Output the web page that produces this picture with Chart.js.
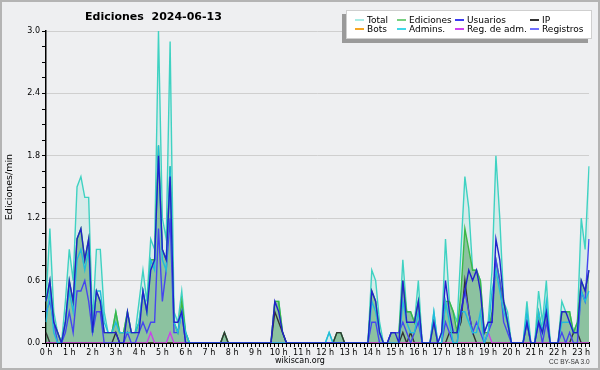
<!DOCTYPE html>
<html>
<head>
<meta charset="utf-8">
<script src="https://cdn.jsdelivr.net/npm/chart.js@4.4.1/dist/chart.umd.min.js"></script>
<style>
  html, body { margin: 0; padding: 0; background: #eeeff1; }
  #wrap { position: relative; width: 600px; height: 370px; overflow: hidden; font-family: "DejaVu Sans", sans-serif; color: #000; }
  #frame { position: absolute; left: 0; top: 0; width: 596px; height: 366px; border: 2px solid #b4b4b4; pointer-events: none; }
  #title { position: absolute; left: 85px; top: 10px; font-weight: bold; font-size: 11px; line-height: 13px; white-space: pre; }
  #legend { position: absolute; left: 346px; top: 10px; width: 244px; height: 27px; background: #fff; border: 1px solid #cfcfcf; box-shadow: -4px 4px 0 #9a9a9a; }
  .item { position: absolute; font-size: 9px; line-height: 10px; white-space: nowrap; }
  .sw { position: absolute; width: 9px; height: 1.5px; }
  #site { position: absolute; left: 0; width: 600px; top: 356px; text-align: center; font-size: 8px; line-height: 10px; }
  #cc { position: absolute; left: 549px; top: 358px; font-family: "Liberation Sans", sans-serif; font-size: 6.5px; line-height: 8px; color: #333; }
</style>
</head>
<body>
<div id="wrap">
  <canvas id="chart" width="600" height="370"></canvas>
  <div id="title">Ediciones  2024-06-13</div>
  <div id="legend"></div>
  <div id="site">wikiscan.org</div>
  <div id="cc">CC BY-SA 3.0</div>
  <div id="frame"></div>
</div>
<script>
// hour tick labels, one every 6 slots (10 min each)
const hourLabels = ['0 h','1 h','2 h','3 h','4 h','5 h','6 h','7 h','8 h','9 h','10 h','11 h',
  '12 h','13 h','14 h','15 h','16 h','17 h','18 h','19 h','20 h','21 h','22 h','23 h'];

// edits per minute, 10-minute slots from 00:00 to 23:20
const total = [
  0.4,1.1,0.3,0.1,0,0.4,0.9,0.6,1.5,1.6,1.4,1.4,
  0.2,0.9,0.9,0.3,0.1,0.1,0.3,0.1,0.1,0.3,0.1,0.1,
  0.4,0.7,0.4,1.0,0.9,3.0,1.2,1.0,2.9,0.3,0.2,0.5,
  0.1,0,0,0,0,0,0,0,0,0,0.1,0,
  0,0,0,0,0,0,0,0,0,0,0,0.4,
  0.4,0.1,0,0,0,0,0,0,0,0,0,0,
  0,0.1,0,0.1,0.1,0,0,0,0,0,0,0,
  0.7,0.6,0.2,0,0,0.1,0.1,0.1,0.8,0.3,0.3,0.2,
  0.6,0,0,0,0.3,0,0.1,1.0,0.4,0.3,0.2,0.9,
  1.6,1.3,0.7,0.7,0.6,0.1,0.2,0.7,1.8,1.2,0.4,0.3,
  0,0,0,0,0.4,0,0,0.5,0.2,0.6,0,0,
  0,0.4,0.3,0.3,0.1,0.2,1.2,0.9,1.7];

const ediciones = [
  0.4,0.6,0.2,0.1,0,0.2,0.6,0.4,1.0,1.1,0.8,1.0,
  0.1,0.5,0.4,0.1,0.1,0.1,0.3,0.1,0.1,0.3,0.1,0.1,
  0.2,0.5,0.3,0.8,0.8,1.9,0.9,0.8,1.7,0.2,0.1,0.4,
  0.1,0,0,0,0,0,0,0,0,0,0.1,0,
  0,0,0,0,0,0,0,0,0,0,0,0.4,
  0.4,0.1,0,0,0,0,0,0,0,0,0,0,
  0,0,0,0.1,0.1,0,0,0,0,0,0,0,
  0.5,0.4,0.1,0,0,0.1,0.1,0.1,0.6,0.3,0.3,0.2,
  0.4,0,0,0,0.2,0,0,0.4,0.4,0.3,0.1,0.5,
  1.1,0.9,0.7,0.7,0.6,0.1,0.1,0.3,0.8,0.6,0.4,0.2,
  0,0,0,0,0.2,0,0,0.3,0.1,0.3,0,0,
  0,0.3,0.3,0.3,0.1,0.2,0.6,0.5,0.7];

const usuarios = [
  0.4,0.6,0.2,0.1,0,0.2,0.6,0.4,1.0,1.1,0.8,1.0,
  0.1,0.5,0.4,0.1,0.1,0.1,0.1,0,0,0.3,0.1,0.1,
  0.1,0.5,0.3,0.7,0.8,1.8,0.9,0.8,1.6,0.2,0.2,0.3,
  0,0,0,0,0,0,0,0,0,0,0,0,
  0,0,0,0,0,0,0,0,0,0,0,0.4,
  0.3,0.1,0,0,0,0,0,0,0,0,0,0,
  0,0,0,0,0,0,0,0,0,0,0,0,
  0.5,0.4,0.1,0,0,0.1,0.1,0,0.6,0.2,0.2,0.2,
  0.4,0,0,0,0.2,0,0.1,0.6,0.3,0.1,0.1,0.3,
  0.5,0.7,0.6,0.7,0.5,0.1,0.2,0.2,1.0,0.8,0.4,0.2,
  0,0,0,0,0.2,0,0,0.2,0.1,0.3,0,0,
  0,0.3,0.3,0.2,0.1,0.1,0.6,0.5,0.7];

const ip = [
  0.1,0,0,0,0,0,0,0,0,0,0,0,
  0,0,0,0,0,0,0.1,0,0,0,0,0,
  0,0,0,0,0,0,0,0,0,0,0,0,
  0,0,0,0,0,0,0,0,0,0,0.1,0,
  0,0,0,0,0,0,0,0,0,0,0,0.3,
  0.2,0.1,0,0,0,0,0,0,0,0,0,0,
  0,0,0,0.1,0.1,0,0,0,0,0,0,0,
  0,0,0,0,0,0,0,0,0.1,0,0.1,0,
  0,0,0,0,0,0,0,0,0.1,0.1,0.1,0.2,
  0.6,0.3,0.1,0,0,0,0,0,0,0,0,0,
  0,0,0,0,0,0,0,0,0,0,0,0,
  0,0,0,0,0.1,0.1,0,0,0];

const bots = [
  0,0,0,0,0,0,0,0,0,0,0,0, 0,0,0,0,0,0,0,0,0,0,0,0,
  0,0,0,0,0,0,0,0,0,0,0,0, 0,0,0,0,0,0,0,0,0,0,0,0,
  0,0,0,0,0,0,0,0,0,0,0,0, 0,0,0,0,0,0,0,0,0,0,0,0,
  0,0,0,0,0,0,0,0,0,0,0,0, 0,0,0,0,0,0,0,0,0,0,0,0,
  0,0,0,0,0,0,0,0,0,0,0,0, 0,0,0,0,0,0,0,0,0,0,0,0,
  0,0,0,0,0,0,0,0,0,0,0,0, 0,0,0,0,0,0,0,0,0];

const admins = [
  0.2,0.5,0.1,0,0,0.2,0.5,0.3,0.8,0.9,0.7,0.9,
  0.1,0.5,0.5,0.2,0.1,0.1,0.2,0.1,0.1,0.1,0.1,0.1,
  0.2,0.5,0.3,0.8,0.7,1.9,0.8,0.7,1.7,0.2,0.1,0.3,
  0.1,0,0,0,0,0,0,0,0,0,0,0,
  0,0,0,0,0,0,0,0,0,0,0,0,
  0,0,0,0,0,0,0,0,0,0,0,0,
  0,0.1,0,0,0,0,0,0,0,0,0,0,
  0.4,0.3,0.1,0,0,0,0,0,0.4,0.2,0.1,0.1,
  0.3,0,0,0,0.3,0,0,0.4,0.2,0,0,0.3,
  0.3,0.2,0.1,0.1,0.3,0,0.1,0.5,0.7,0.5,0.3,0.2,
  0,0,0,0,0.3,0,0,0.3,0.1,0.4,0,0,
  0,0.2,0.2,0.2,0.1,0.1,0.5,0.4,0.5];

const regAdm = [
  0,0,0,0,0,0,0,0,0,0,0,0,
  0,0,0,0,0,0,0,0,0,0,0,0,
  0,0,0,0.1,0,0,0,0,0.1,0,0,0,
  0,0,0,0,0,0,0,0,0,0,0,0,
  0,0,0,0,0,0,0,0,0,0,0,0,
  0,0,0,0,0,0,0,0,0,0,0,0,
  0,0,0,0,0,0,0,0,0,0,0,0,
  0,0,0,0,0,0,0,0,0,0,0,0,
  0,0,0,0,0,0,0,0,0,0,0,0,
  0,0,0,0,0,0,0.1,0,0,0,0,0,
  0,0,0,0,0,0,0,0,0,0,0,0,
  0,0,0,0,0,0,0,0,0];

const registros = [
  0.3,0.4,0.2,0,0,0.1,0.3,0.1,0.5,0.5,0.6,0.4,
  0.1,0.3,0.3,0,0,0,0,0,0,0.1,0,0,
  0.1,0.2,0.1,0.2,0.2,1.1,0.4,0.7,1.2,0.1,0.1,0.3,
  0,0,0,0,0,0,0,0,0,0,0,0,
  0,0,0,0,0,0,0,0,0,0,0,0,
  0,0,0,0,0,0,0,0,0,0,0,0,
  0,0,0,0,0,0,0,0,0,0,0,0,
  0.2,0.2,0,0,0,0.1,0.1,0.1,0.2,0.1,0,0.1,
  0.2,0,0,0,0,0,0,0.2,0.1,0,0,0.3,
  0.5,0.3,0.1,0.2,0.1,0,0.1,0.2,0.8,0.6,0.2,0.1,
  0,0,0,0,0.2,0,0,0.2,0,0.2,0,0,
  0,0.1,0,0.1,0,0,0.5,0.4,1.0];

// slot labels (category axis), 10 minute steps
const slots = [];
for (let i = 0; i < total.length; i++) {
  const h = Math.floor(i / 6), m = (i % 6) * 10;
  slots.push(h + ':' + (m < 10 ? '0' + m : m));
}

const series = [
  { label: 'Total',        data: total,     color: '#3fd2c2', fill: 'rgba(64,208,192,0.13)', order: 9 },
  { label: 'Ediciones',    data: ediciones, color: '#3cb846', fill: 'rgba(48,146,70,0.45)',  order: 8 },
  { label: 'Usuarios',     data: usuarios,  color: '#2222cc', order: 1 },
  { label: 'IP',           data: ip,        color: '#333333', order: 6 },
  { label: 'Bots',         data: bots,      color: '#f0a030', order: 7 },
  { label: 'Admins.',      data: admins,    color: '#22bcdc', order: 2 },
  { label: 'Reg. de adm.', data: regAdm,    color: '#c844e8', order: 4 },
  { label: 'Registros',    data: registros, color: '#4646ee', order: 3 }
];

// legend box (two rows of four)
const legendPos = [[355, 20], [397, 20], [455, 20], [530, 20], [355, 29], [397, 29], [455, 29], [530, 29]];
const legendOrder = ['Total', 'Ediciones', 'Usuarios', 'IP', 'Bots', 'Admins.', 'Reg. de adm.', 'Registros'];
const legendSwatch = { 'Total': '#a8ece4', 'Ediciones': '#78d080', 'Usuarios': '#3c3cf0', 'IP': '#333',
  'Bots': '#f5a623', 'Admins.': '#40d8e8', 'Reg. de adm.': '#d040f0', 'Registros': '#7070ff' };
const wrap = document.getElementById('wrap');
legendOrder.forEach((name, k) => {
  const [x, y] = legendPos[k];
  const sw = document.createElement('div');
  sw.className = 'sw';
  sw.style.left = x + 'px';
  sw.style.top = (y - 1) + 'px';
  sw.style.background = legendSwatch[name];
  wrap.appendChild(sw);
  const t = document.createElement('div');
  t.className = 'item';
  t.style.left = (x + 12) + 'px';
  t.style.top = (y - 5) + 'px';
  t.textContent = name;
  wrap.appendChild(t);
});

function isMajor(v) {
  const r = v / 0.6;
  return Math.abs(r - Math.round(r)) < 1e-6;
}

Chart.defaults.font.family = '"DejaVu Sans", sans-serif';
Chart.defaults.color = '#000';

new Chart(document.getElementById('chart'), {
  type: 'line',
  data: {
    labels: slots,
    datasets: series.map(s => ({
      label: s.label,
      data: s.data,
      borderColor: s.color,
      backgroundColor: s.fill || s.color,
      fill: s.fill ? 'origin' : false,
      borderWidth: 1.4,
      pointRadius: 0,
      tension: 0,
      order: s.order
    }))
  },
  options: {
    responsive: false,
    animation: false,
    devicePixelRatio: 1,
    layout: { padding: { left: 0, top: 31, right: 11, bottom: 0 } },
    plugins: { legend: { display: false }, tooltip: { enabled: false } },
    scales: {
      x: {
        type: 'category',
        offset: false,
        z: 1,
        afterFit: s => { s.height = 27; },
        border: { display: true, color: '#000', width: 2 },
        grid: { drawOnChartArea: false, tickColor: '#000', tickLength: 4 },
        ticks: {
          autoSkip: false, maxRotation: 0, padding: 1, font: { size: 8 },
          callback: (v, i) => (i % 6 === 0 ? hourLabels[i / 6] : '')
        }
      },
      y: {
        min: 0,
        max: 3,
        afterFit: s => { s.width = 46; },
        border: { display: true, color: '#000', width: 1.5 },
        grid: {
          color: c => (c.tick && isMajor(c.tick.value) ? '#cfcfcf' : 'rgba(0,0,0,0)'),
          tickColor: '#000',
          tickLength: 4
        },
        ticks: {
          stepSize: 0.15, autoSkip: false, padding: 2, font: { size: 8 },
          callback: v => (isMajor(v) ? v.toFixed(1) : '')
        },
        title: { display: true, text: 'Ediciones/min', font: { size: 9.5 }, padding: { top: 4, bottom: 0 } }
      }
    }
  }
});
</script>
</body>
</html>
